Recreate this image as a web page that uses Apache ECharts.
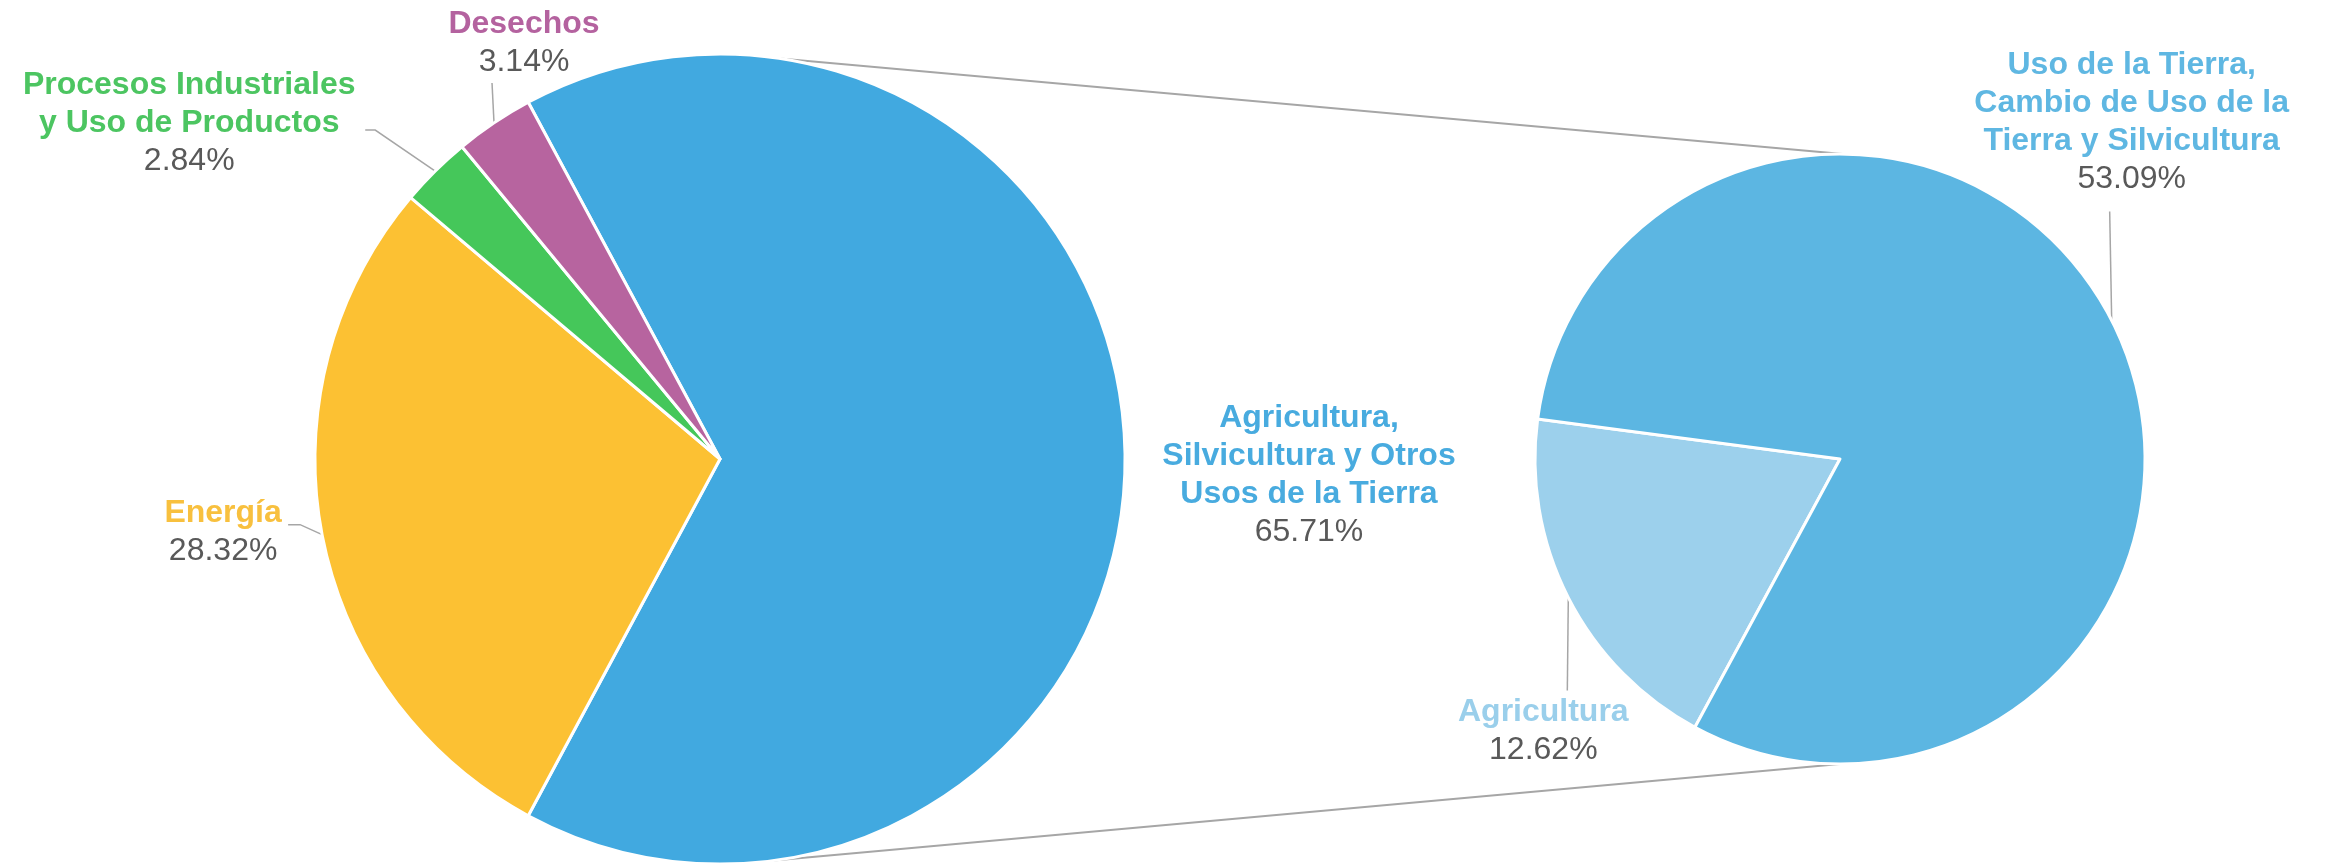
<!DOCTYPE html>
<html>
<head>
<meta charset="utf-8">
<script src="https://cdn.jsdelivr.net/npm/echarts@6/dist/echarts.min.js"></script>
<style>
html,body{margin:0;padding:0;background:#ffffff;}
#chart{width:2326px;height:866px;}
</style>
</head>
<body>
<div id="chart"></div>
<script>
// ---- Data ----
const mainCategories = ['Agricultura,\nSilvicultura y Otros\nUsos de la Tierra', 'Energía', 'Procesos Industriales\ny Uso de Productos', 'Desechos'];
const mainValues = [65.71, 28.32, 2.84, 3.14];
const subCategories = ['Agricultura', 'Uso de la Tierra,\nCambio de Uso de la\nTierra y Silvicultura'];
const subValues = [12.62, 53.09];

// ---- Styles ----
const mainColors = ['#41A9E0', '#FCC133', '#45C75A', '#B7649F'];
const mainLabelColors = ['#48ABDF', '#F8C03E', '#4CC561', '#B4629F'];
const subColors = ['#9CD0EC', '#5CB6E2'];
const subLabelColors = ['#9ACFEB', '#5FB7E2'];
const pctColor = '#595959';
const lineColor = '#A6A6A6';
const FONT = '"Liberation Sans", Arial, Helvetica, sans-serif';

// ---- Geometry ----
const C1 = [720, 459], R1 = 405;
const C2 = [1840, 459], R2 = 305;
const total1 = mainValues.reduce((a, b) => a + b, 0);
const start1 = mainValues[0] / total1 * 180; // first slice centred on 3 o'clock
const start2 = 241.6;

function midAngle(values, start, i) {
  const tot = values.reduce((a, b) => a + b, 0);
  let cum = 0;
  for (let j = 0; j < i; j++) cum += values[j];
  return start - (cum + values[i] / 2) / tot * 360;
}
function edgePoint(center, r, deg) {
  const a = deg * Math.PI / 180;
  return [center[0] + r * Math.cos(a), center[1] - r * Math.sin(a)];
}

// label offsets relative to the slice's outer mid point
const mainLabelLayout = [
  { c: [184, 16], line: null },
  { c: [-99, -2], line: [[0, 0], [-22, -10], [-34, -10]] },
  { c: [-246, -48], line: [[0, 0], [-60, -41], [-70, -41]] },
  { c: [30, -80], line: [[0, 0], [-2, -40], [-2, -40]] }
];
const subLabelLayout = [
  { c: [-25, 134], line: [[0, 0], [-1, 93], [-1, 93]] },
  { c: [20, -198], line: [[0, 0], [-2, -109], [-2, -109]] }
];

function makeLayout(values, start, center, r, table) {
  return function (params) {
    const i = params.dataIndex;
    const L = table[i];
    const E = edgePoint(center, r, midAngle(values, start, i));
    const out = { x: E[0] + L.c[0], y: E[1] + L.c[1], align: 'center', verticalAlign: 'middle' };
    if (L.line) out.labelLinePoints = L.line.map(p => [E[0] + p[0], E[1] + p[1]]);
    return out;
  };
}

function makeRich(colors) {
  const rich = {
    p: { color: pctColor, fontSize: 32, lineHeight: 38, fontFamily: FONT, align: 'center' }
  };
  colors.forEach((c, i) => {
    rich['n' + i] = { color: c, fontSize: 32, fontWeight: 'bold', lineHeight: 38, fontFamily: FONT, align: 'center' };
  });
  return rich;
}
function formatter(params) {
  return params.name.split('\n').map(s => '{n' + params.dataIndex + '|' + s + '}').join('\n') +
    '\n{p|' + params.value.toFixed(2) + '%}';
}

const mainData = mainCategories.map((n, i) => ({
  name: n, value: mainValues[i],
  itemStyle: { color: mainColors[i] },
  labelLine: { show: i !== 0 }
}));
const subData = subCategories.map((n, i) => ({
  name: n, value: subValues[i],
  itemStyle: { color: subColors[i] }
}));

// connector lines between the pies
const topA = edgePoint(C1, R1, 81.5), topB = edgePoint(C2, R2, 89.5);
const botA = edgePoint(C1, R1, -82.8), botB = edgePoint(C2, R2, -90);

const chart = echarts.init(document.getElementById('chart'), null, { renderer: 'canvas' });
chart.setOption({
  backgroundColor: '#ffffff',
  animation: false,
  graphic: [
    { type: 'line', z: 0, shape: { x1: topA[0], y1: topA[1], x2: topB[0], y2: topB[1] }, style: { stroke: lineColor, lineWidth: 2 } },
    { type: 'line', z: 0, shape: { x1: botA[0], y1: botA[1], x2: botB[0], y2: botB[1] }, style: { stroke: lineColor, lineWidth: 2 } }
  ],
  series: [
    {
      type: 'pie',
      center: C1,
      radius: R1,
      startAngle: start1,
      clockwise: true,
      avoidLabelOverlap: false,
      itemStyle: { borderColor: '#ffffff', borderWidth: 3 },
      emphasis: { disabled: true },
      label: {
        show: true, position: 'outside', formatter: formatter,
        width: 600, overflow: 'none',
        rich: makeRich(mainLabelColors)
      },
      labelLine: { show: true, length: 10, length2: 10, lineStyle: { color: lineColor, width: 1.5 } },
      labelLayout: makeLayout(mainValues, start1, C1, R1, mainLabelLayout),
      data: mainData
    },
    {
      type: 'pie',
      center: C2,
      radius: R2,
      startAngle: start2,
      clockwise: true,
      avoidLabelOverlap: false,
      itemStyle: { borderColor: '#ffffff', borderWidth: 3 },
      emphasis: { disabled: true },
      label: {
        show: true, position: 'outside', formatter: formatter,
        width: 600, overflow: 'none',
        rich: makeRich(subLabelColors)
      },
      labelLine: { show: true, length: 10, length2: 10, lineStyle: { color: lineColor, width: 1.5 } },
      labelLayout: makeLayout(subValues, start2, C2, R2, subLabelLayout),
      data: subData
    }
  ]
});
</script>
</body>
</html>
